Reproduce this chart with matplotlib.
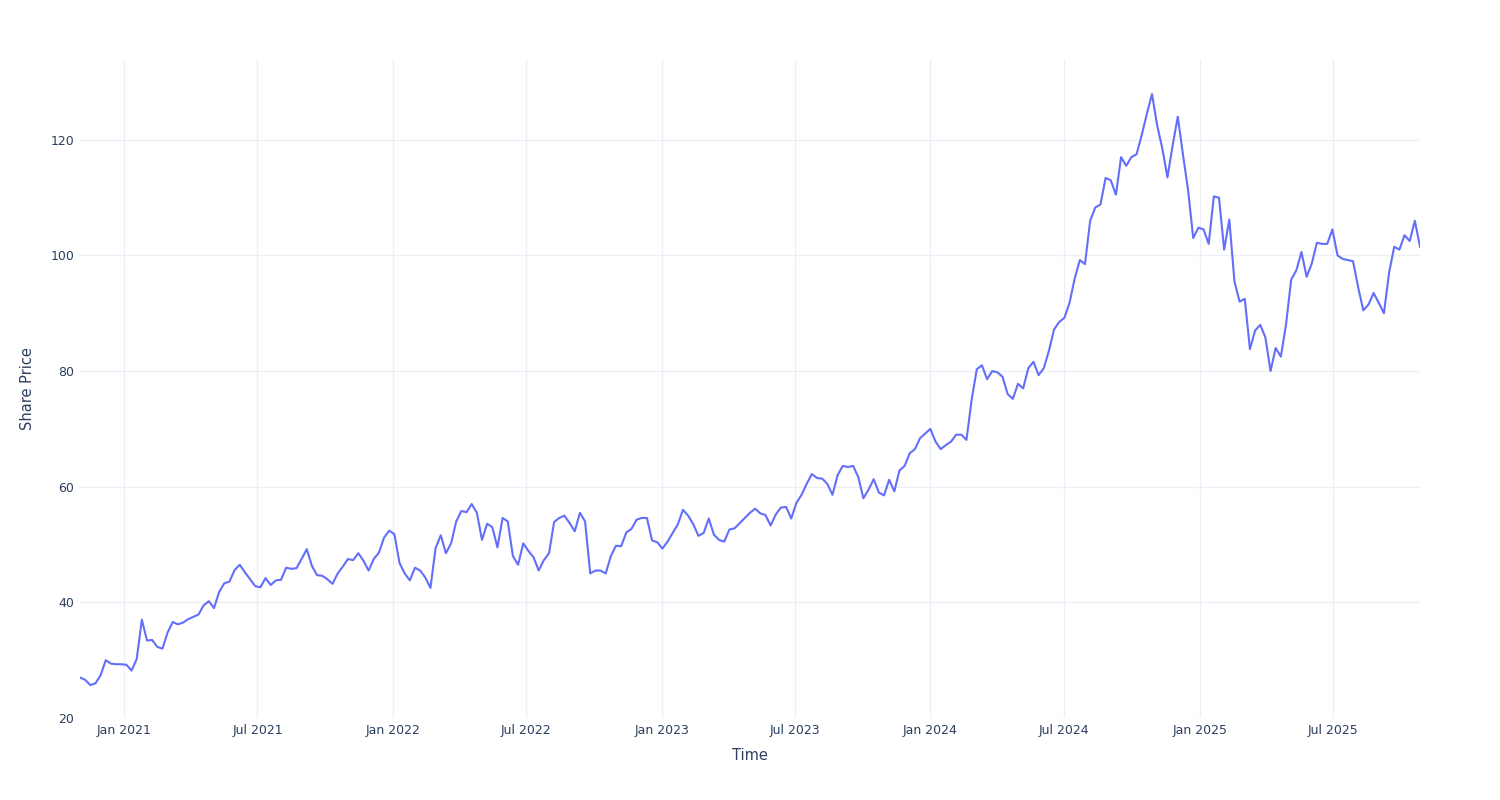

import matplotlib

matplotlib.use("Agg")

import matplotlib.dates as mdates
import matplotlib.pyplot as plt
import pandas as pd


START_DATE = "2020-11-02"

# one reading per week, starting at START_DATE
PRICE = [
    27.0, 26.6, 25.7, 26.0, 27.4, 30.0, 29.4, 29.3, 29.3, 29.2,
    28.2, 30.2, 37.0, 33.4, 33.5, 32.3, 32.0, 34.8, 36.6, 36.2,
    36.5, 37.1, 37.5, 37.9, 39.5, 40.2, 39.0, 41.8, 43.3, 43.6,
    45.6, 46.5, 45.2, 44.0,
    42.8, 42.6, 44.2, 43.0, 43.8, 43.9, 46.0, 45.8, 45.9, 47.5,
    49.2, 46.3, 44.7, 44.6, 44.0, 43.2, 45.0, 46.2, 47.5, 47.3,
    48.5, 47.2, 45.5, 47.5, 48.6, 51.2, 52.4, 51.8, 46.8, 45.0,
    43.8,
    46.0, 45.5, 44.3, 42.5, 49.4, 51.6, 48.5, 50.2, 54.0, 55.8,
    55.6, 57.0, 55.5, 50.8, 53.6, 53.0, 49.5, 54.6, 54.0, 48.0,
    46.5, 50.2, 48.9, 47.8, 45.5, 47.3, 48.5, 53.9, 54.6, 55.0,
    53.7, 52.3,
    55.5, 54.0, 45.0, 45.5, 45.5, 45.0, 48.0, 49.8, 49.7, 52.1,
    52.7, 54.3, 54.6, 54.6, 50.7, 50.4, 49.3, 50.5, 52.0, 53.5,
    56.0, 55.0, 53.5, 51.5, 52.0, 54.5, 51.7, 50.8, 50.5, 52.6,
    52.8, 53.7,
    54.6, 55.5, 56.2, 55.4, 55.1, 53.3, 55.2, 56.4, 56.5, 54.5,
    57.2, 58.6, 60.5, 62.2, 61.5, 61.4, 60.5, 58.6, 62.0, 63.6,
    63.4, 63.6, 61.7, 58.0, 59.5, 61.3, 59.0, 58.5, 61.2, 59.2,
    62.8, 63.6,
    65.8, 66.5, 68.4, 69.2, 70.0, 67.8, 66.5, 67.2, 67.8, 69.0,
    69.0, 68.1, 75.0, 80.3, 81.0, 78.6, 80.0, 79.8, 79.0, 76.0,
    75.2, 77.8, 77.0, 80.5, 81.6, 79.3, 80.5, 83.5, 87.2, 88.5,
    89.2, 91.8,
    96.0, 99.2, 98.5, 106.0, 108.3, 108.8, 113.4, 113.0, 110.5, 117.0,
    115.5, 117.0, 117.5, 120.8, 124.5, 127.9, 122.5, 118.5, 113.5, 119.0,
    124.0, 117.5, 111.3, 103.0, 104.8, 104.5, 102.0, 110.2, 110.0, 101.0,
    106.2, 95.5,
    92.0, 92.5, 83.8, 87.0, 88.0, 85.8, 80.0, 84.0, 82.5, 88.0,
    95.8, 97.4, 100.6, 96.3, 98.6, 102.2, 102.0, 102.0, 104.5, 100.0,
    99.4, 99.2, 99.0, 94.5, 90.5, 91.5, 93.5, 91.8, 90.0, 97.0,
    101.5, 101.0, 103.5, 102.5, 106.0, 101.5,
]

Y_MIN = 20
Y_MAX = 133.8

LINE_COLOR = "#636efa"
GRID_COLOR = "#ebf0f8"
TEXT_COLOR = "#2a3f5f"


def main() -> None:
    dates = pd.date_range(START_DATE, periods=len(PRICE), freq="7D")

    plt.rcParams["font.family"] = ["DejaVu Sans"]
    fig = plt.figure(figsize=(15, 8), dpi=100)
    ax = fig.add_axes((80 / 1500, 82 / 800, 1340 / 1500, 658 / 800))

    ax.plot(dates, PRICE, color=LINE_COLOR, linewidth=1.5, zorder=3)

    ax.set_xlim(dates[0], dates[-1])
    ax.set_ylim(Y_MIN, Y_MAX)
    ax.set_yticks([20, 40, 60, 80, 100, 120])

    ax.xaxis.set_major_locator(mdates.MonthLocator(bymonth=[1, 7]))
    ax.xaxis.set_major_formatter(mdates.DateFormatter("%b %Y"))

    ax.grid(True, color=GRID_COLOR, linewidth=1.0, zorder=0)
    ax.set_axisbelow(True)
    for spine in ax.spines.values():
        spine.set_visible(False)
    ax.tick_params(axis="both", length=0, labelsize=9, labelcolor=TEXT_COLOR)
    ax.tick_params(axis="x", pad=4)
    ax.tick_params(axis="y", pad=4)

    ax.set_xlabel("Time", fontsize=10.5, color=TEXT_COLOR, labelpad=8)
    ax.set_ylabel("Share Price", fontsize=10.5, color=TEXT_COLOR, labelpad=11)

    fig.savefig("out.png", dpi=100)


if __name__ == "__main__":
    main()
